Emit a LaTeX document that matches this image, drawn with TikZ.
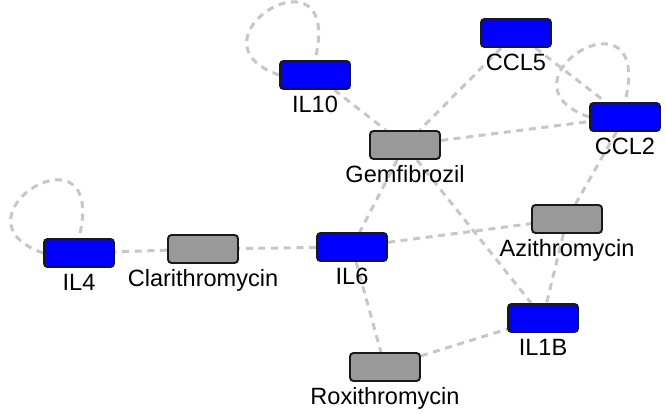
\documentclass[tikz,border=0pt]{standalone}
\usepackage{fontspec}
\setmainfont{Liberation Sans}
\usetikzlibrary{positioning,backgrounds}
\begin{document}
\begin{tikzpicture}[x=0.02cm,y=-0.02cm]
\tikzset{gene/.style = {draw=black!90, line width=1.1pt, rounded corners=2pt, fill=blue,
    minimum width=1.4cm, minimum height=0.56cm, inner sep=0pt},
  drug/.style = {gene, fill=black!40},
  lbl/.style = {inner sep=0pt, text height=9.6pt, text depth=2.6pt, font=\fontsize{13.4}{15}\selectfont},
  link/.style = {draw=black!22, line width=1.7pt, dash pattern=on 4pt off 3.2pt}}
\useasboundingbox (0,0) rectangle (666,413);
% genes
\node[gene] (il10) at (315,75) {};
\node[gene] (ccl5) at (516,33) {};
\node[gene] (ccl2) at (625,117) {};
\node[gene] (il4) at (79,253) {};
\node[gene] (il6) at (352,247) {};
\node[gene] (il1b) at (543,318) {};
% drugs
\node[drug] (gem) at (405,145) {};
\node[drug] (azi) at (567,219) {};
\node[drug] (cla) at (203,249) {};
\node[drug] (rox) at (385,367) {};
% labels
\node[lbl, below=3pt of il10] (il10l) {IL10};
\node[lbl, below=3pt of ccl5] (ccl5l) {CCL5};
\node[lbl, below=3pt of ccl2] (ccl2l) {CCL2};
\node[lbl, below=3pt of il4] (il4l) {IL4};
\node[lbl, below=3pt of il6] (il6l) {IL6};
\node[lbl, below=3pt of il1b] (il1bl) {IL1B};
\node[lbl, below=3pt of gem] (geml) {Gemfibrozil};
\node[lbl, below=3pt of azi] (azil) {Azithromycin};
\node[lbl, below=3pt of cla] (clal) {Clarithromycin};
\node[lbl, below=3pt of rox] (roxl) {Roxithromycin};
\begin{scope}[on background layer]
\draw[link] (il10) -- (gem);
\draw[link] (ccl5) -- (gem);
\draw[link] (ccl5) -- (ccl2);
\draw[link] (gem) -- (ccl2);
\draw[link] (ccl2) -- (azi);
\draw[link] (gem) -- (il6);
\draw[link] (gem) -- (il1b);
\draw[link] (il6) -- (azi);
\draw[link] (azi) -- (il1b);
\draw[link] (il6) -- (cla);
\draw[link] (cla) -- (il4);
\draw[link] (il6) -- (rox);
\draw[link] (rox) -- (il1b);
% self loops
\foreach \n in {il10,ccl2,il4}
  \draw[link] (\n.west) .. controls +(-100,-35) and +(30,-122) .. (\n.north);
\end{scope}
\end{tikzpicture}
\end{document}
